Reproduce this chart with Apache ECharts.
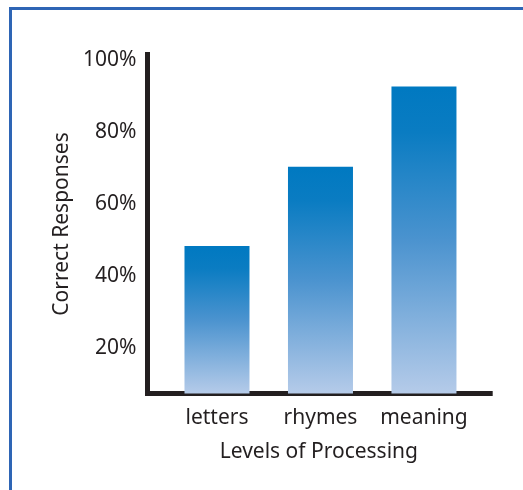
<!DOCTYPE html>
<html>
<head>
<meta charset="utf-8">
<script src="https://cdn.jsdelivr.net/npm/echarts@6/dist/echarts.min.js"></script>
<style>
  html, body { margin: 0; padding: 0; background: #ffffff; }
  #chart { position: absolute; left: 0; top: 0; width: 523px; height: 490px; }
  #frame { position: absolute; left: 9px; top: 7px; width: 600px; height: 600px;
           border-left: 3px solid #2e65b5; border-top: 3px solid #2e65b5; pointer-events: none; }
</style>
</head>
<body>
<div id="chart"></div>
<div id="frame"></div>
<script>
const categories = ['letters', 'rhymes', 'meaning'];
const values = [48.3, 70.3, 92.6];
const yTickValues = [20, 40, 60, 80, 100];

const textColor = '#231f20';
const font = 'Noto Sans';

const chart = echarts.init(document.getElementById('chart'), null, { renderer: 'canvas' });

chart.setOption({
  backgroundColor: 'transparent',
  animation: false,
  grid: { left: 147.5, top: 54.5, width: 342.7, height: 339, containLabel: false },
  xAxis: {
    type: 'value',
    min: 0.3285,
    max: 3.640,
    name: 'Levels of Processing',
    nameLocation: 'middle',
    nameGap: 48,
    nameTextStyle: { color: textColor, fontFamily: font, fontSize: 21 },
    axisLine: { show: true, onZero: false, lineStyle: { color: textColor, width: 5, cap: 'square' } },
    axisTick: { show: false },
    splitLine: { show: false },
    axisLabel: {
      customValues: categories.map((c, i) => i + 1),
      formatter: v => categories[Math.round(v) - 1] || '',
      color: textColor, fontFamily: font, fontSize: 21, margin: 14
    }
  },
  yAxis: {
    type: 'value',
    min: 7.36,
    max: 101.5,
    name: 'Correct Responses',
    nameLocation: 'middle',
    nameGap: 73,
    nameTextStyle: { color: textColor, fontFamily: font, fontSize: 21 },
    axisLine: { show: true, onZero: false, lineStyle: { color: textColor, width: 5, cap: 'square' } },
    axisTick: { show: false },
    splitLine: { show: false },
    axisLabel: {
      customValues: yTickValues,
      formatter: v => v + '%',
      color: textColor, fontFamily: font, fontSize: 21, margin: 11
    }
  },
  series: [{
    type: 'bar',
    barWidth: 65,
    z: 1,
    data: values.map((v, i) => [i + 1, v]),
    itemStyle: {
      color: new echarts.graphic.LinearGradient(0, 0, 0, 1, [
        { offset: 0, color: '#0079c1' },
        { offset: 0.15, color: '#0a7cc2' },
        { offset: 0.5, color: '#4b93cf' },
        { offset: 1, color: '#b5cbe9' }
      ])
    }
  }]
});
</script>
</body>
</html>
